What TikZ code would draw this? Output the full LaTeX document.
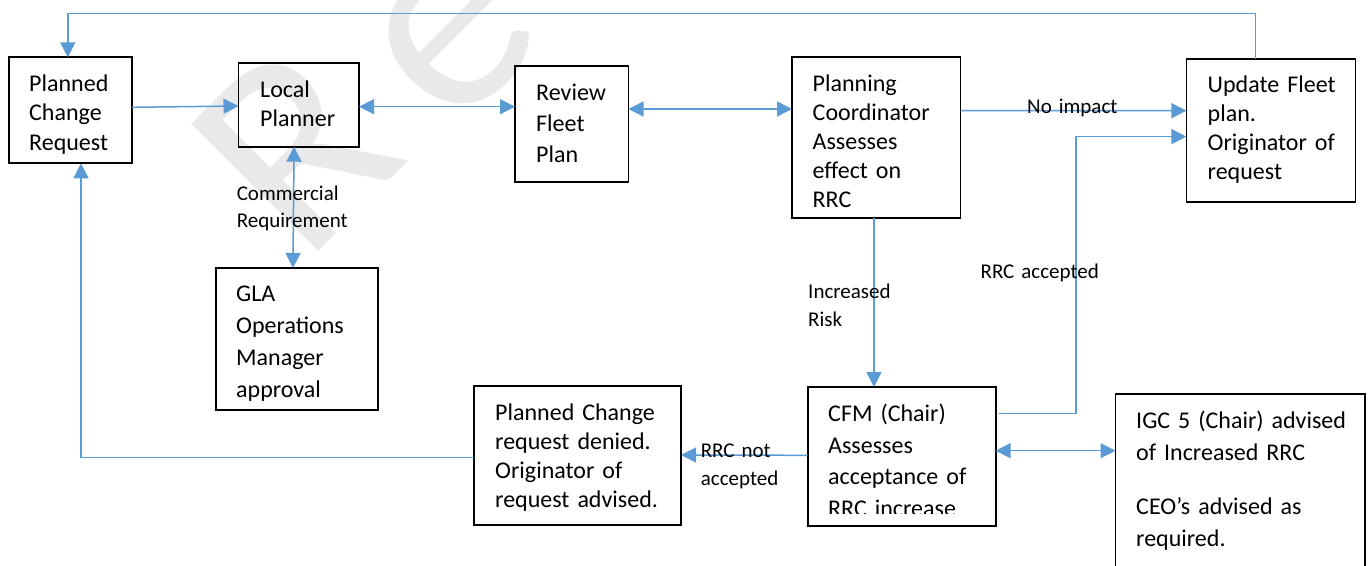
\documentclass[tikz,border=0pt]{standalone}
\usepackage{fontspec}
\setmainfont{Carlito}
\usetikzlibrary{arrows.meta,calc}

\definecolor{flow}{HTML}{5B9BD5}
\definecolor{wmark}{HTML}{E9E9E9}

\begin{document}
\begin{tikzpicture}[x=1pt,y=-1pt,
  box/.style={draw=black, line width=1.8pt, rectangle, inner sep=0pt, outer sep=0pt, anchor=north west},
  boxtext/.style={anchor=base west, inner sep=0pt, text width=260pt, align=left,
                  font=\fontsize{24}{#1}\selectfont},
  lbl/.style={anchor=base west, inner sep=0pt, text width=140pt, align=left,
              font=\fontsize{21}{#1}\selectfont},
  lbl/.default=28,
  conn/.style={draw=flow, line width=1.5pt, -{Triangle[length=15pt,width=15pt]}},
  both/.style={draw=flow, line width=1.5pt, {Triangle[length=15pt,width=15pt]}-{Triangle[length=15pt,width=15pt]}},
  wmk/.style={text=wmark, inner sep=0pt, font=\fontsize{280}{280}\selectfont}
]
\useasboundingbox (0,0) rectangle (1368,565);
\fill[white] (0,0) rectangle (1368,565);
\clip (0,0) rectangle (1368,565);

% faint watermark behind the chart
\node[wmk, rotate=45, anchor=base west] (wm) at (304,266) {R\kern45pt\raisebox{-13pt}{e}};

% boxes
\node[box, minimum width=123pt,   minimum height=106pt]   (pcr) at (9,57.3) {};
\node[box, minimum width=120.5pt, minimum height=84pt]    (lp)  at (238.5,62.7) {};
\node[box, minimum width=113.5pt, minimum height=116pt]   (rev) at (515,65.7) {};
\node[box, minimum width=168.5pt, minimum height=160.4pt] (pc)  at (792,57.3) {};
\node[box, minimum width=169pt,   minimum height=143pt]   (upd) at (1186.4,58.6) {};
\node[box, minimum width=162pt,   minimum height=142pt]   (gla) at (215.6,268) {};
\node[box, minimum width=207pt,   minimum height=139pt]   (den) at (474,386) {};
\node[box, minimum width=188pt,   minimum height=138.7pt] (cfm) at (807.6,387) {};
\node[box, minimum width=249.7pt, minimum height=200pt]   (igc) at (1115.5,394) {};

% box texts
\node[boxtext=29.7] (pcrT) at (29,91) {Planned\\Change\\Request};
\node[boxtext=29]   (lpT)  at (260,97.5) {Local\\Planner};
\node[boxtext=31.2] (revT) at (536,100.2) {Review\\Fleet\\Plan};
\node[boxtext=29]   (pcT)  at (812.5,91.5) {Planning\\Coordinator\\Assesses\\effect on\\RRC};
\node[boxtext=29]   (updT) at (1207.5,92.5) {Update Fleet\\plan.\\Originator of\\request};
\node[boxtext=32]   (glaT) at (236,301.5) {GLA\\Operations\\Manager\\approval};
\node[boxtext=29]   (denT) at (495,420.5) {Planned Change\\request denied.\\Originator of\\request advised.};
\begin{scope}
  % the last line of this box runs past its lower edge and is cut off
  \clip ($(cfm.north west)+(1,1)$) rectangle ($(cfm.south east)+(-1,-12.2)$);
  \node[boxtext=31.7] (cfmT) at (828,421.5) {CFM (Chair)\\Assesses\\acceptance of\\RRC increase};
\end{scope}
\node[boxtext=31.5] (igcT) at (1136,428.5) {IGC 5 (Chair) advised\\of Increased RRC\\[23pt]CEO’s advised as\\required.};

% connectors
\draw[conn] ([xshift=69.3pt]upd.north west) -- ++(0,-45.1) -| ([xshift=58.8pt]pcr.north west);
\draw[conn] ($(pcr.north east)+(0,50)$) -- ($(lp.north west)+(0,43.3)$);
\draw[both] ($(lp.north east)+(0,44)$) -- ($(rev.north west)+(0,41)$);
\draw[both] ($(rev.north east)+(0,43.3)$) -- ($(pc.north west)+(0,51.7)$);
\draw[conn] ($(pc.north east)+(0,53.4)$) -- ($(upd.north west)+(0,52.1)$);
\draw[both] ($(lp.south west)+(55.6,0)$) -- ($(gla.north west)+(77.3,0)$);
\draw[conn] ($(pc.south west)+(82,0)$) -- ($(cfm.north west)+(66.4,0)$);
\coordinate (acc) at ($(upd.north west)+(0,78)$);
\draw[conn] ($(cfm.north east)+(3,26.5)$) -| ($(acc)+(-110.4,0)$) -- (acc);
\draw[conn] ($(cfm.north west)+(0,68.3)$) -- ($(den.north east)+(0,69)$);
\draw[both] ($(cfm.north east)+(0,63.7)$) -- ($(igc.north west)+(0,56.7)$);
\draw[conn] ($(den.north west)+(0,71.5)$) -| ($(pcr.south west)+(72,0)$);

% connector labels
\node[lbl=27.7] (lComm) at (236.6,200) {Commercial\\Requirement};
\node[lbl]      (lNo)   at (1027,113) {No impact};
\node[lbl]      (lInc)  at (808,298.5) {Increased\\Risk};
\node[lbl]      (lAcc)  at (980.4,278) {RRC accepted};
\node[lbl=28.3] (lNot)  at (700.6,457) {RRC not\\accepted};
\end{tikzpicture}
\end{document}
